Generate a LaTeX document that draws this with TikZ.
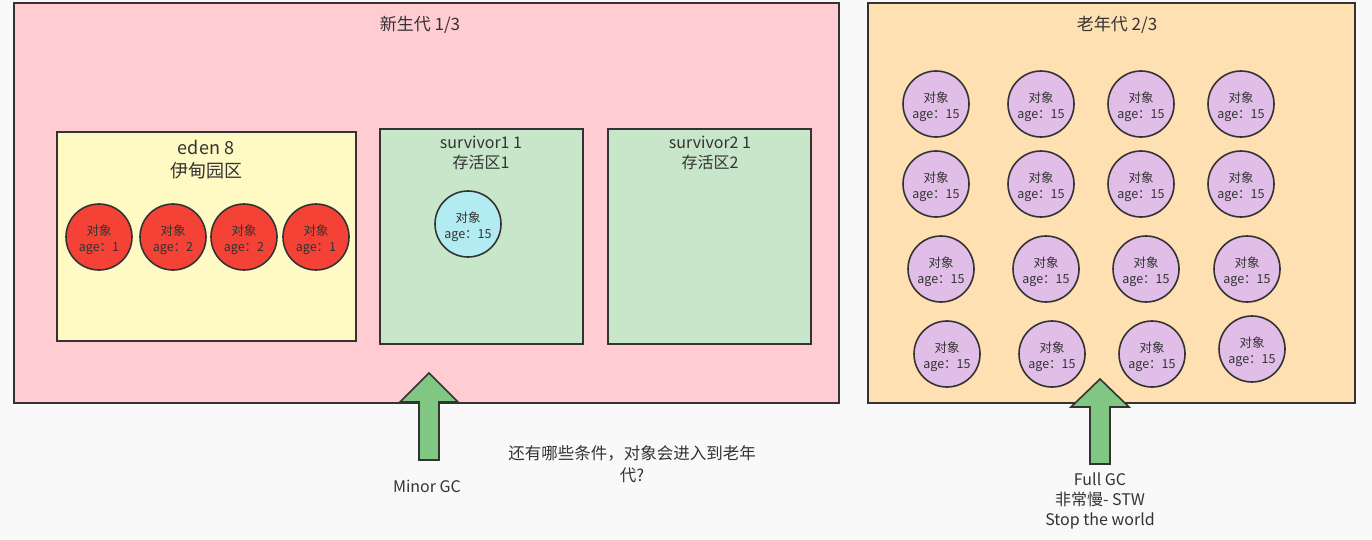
\documentclass[tikz,border=0pt]{standalone}
\usepackage{fontspec}
\setmainfont{Noto Sans CJK SC}
\definecolor{bgc}{HTML}{F9F9F9}
\definecolor{inkc}{HTML}{333333}
\definecolor{youngc}{HTML}{FFCCD1}
\definecolor{edenc}{HTML}{FFF9C4}
\definecolor{survc}{HTML}{C8E6C9}
\definecolor{oldc}{HTML}{FFE0B2}
\definecolor{redc}{HTML}{F44336}
\definecolor{cyanc}{HTML}{B2EBF2}
\definecolor{purpc}{HTML}{E1BEE7}
\definecolor{arrc}{HTML}{81C784}
\tikzset{
  area/.style={draw=inkc, line width=1.8pt},
  objtext/.style={text=inkc, align=center, inner sep=0pt, yshift=-3pt, font=\fontsize{12.5}{16}\selectfont},
  obj/.style={circle, draw=inkc, line width=1.6pt, minimum size=66pt, inner sep=0pt, label={[objtext]center:#1}},
  redobj/.style={obj={#1}, fill=redc},
  cyanobj/.style={obj={#1}, fill=cyanc},
  oldobj/.style={obj={#1}, fill=purpc},
  lbl/.style={text=inkc, align=center, inner sep=0pt},
  bigarrow/.style={draw=inkc, line width=1.6pt, fill=arrc, line join=miter}
}
\begin{document}
\begin{tikzpicture}[x=1pt,y=-1pt]
\useasboundingbox (0,0) rectangle (1372,539);
\fill[bgc] (0,0) rectangle (1372,539);
% young generation
\draw[area, fill=youngc] (14,3) rectangle (839,403);
\node[lbl, font=\fontsize{17}{20}\selectfont] (youngt) at (420,25) {新生代 1/3};
\draw[area, fill=edenc] (57,132) rectangle (356,341);
\node[lbl, font=\fontsize{18}{23}\selectfont] (edent) at (206,160) {eden 8\\伊甸园区};
\draw[area, fill=survc] (380,129) rectangle (583,344);
\node[lbl, font=\fontsize{16}{20}\selectfont] (s1t) at (481,153) {survivor1 1\\存活区1};
\draw[area, fill=survc] (608,129) rectangle (811,344);
\node[lbl, font=\fontsize{16}{20}\selectfont] (s2t) at (710,153) {survivor2 1\\存活区2};
\node[redobj={对象\\age：1}] (e1) at (99,237) {};
\node[redobj={对象\\age：2}] (e2) at (173,237) {};
\node[redobj={对象\\age：2}] (e3) at (244,237) {};
\node[redobj={对象\\age：1}] (e4) at (316,237) {};
\node[cyanobj={对象\\age：15}] (s1o) at (468,224) {};
% old generation
\draw[area, fill=oldc] (868,3) rectangle (1355,403);
\node[lbl, font=\fontsize{17}{20}\selectfont] (oldt) at (1117,25) {老年代 2/3};
\foreach \i/\x in {1/936,2/1041,3/1141,4/1241}{
  \node[oldobj={对象\\age：15}] (oa\i) at (\x,104) {};
  \node[oldobj={对象\\age：15}] (ob\i) at (\x,184) {};
}
\foreach \i/\x in {1/941,2/1046,3/1146,4/1247}{
  \node[oldobj={对象\\age：15}] (oc\i) at (\x,269) {};
}
\node[oldobj={对象\\age：15}] (od1) at (947,354) {};
\node[oldobj={对象\\age：15}] (od2) at (1052,354) {};
\node[oldobj={对象\\age：15}] (od3) at (1152,354) {};
\node[oldobj={对象\\age：15}] (od4) at (1252,349) {};
% arrows
\draw[bigarrow] (429,373) -- (458,402) -- (439,402) -- (439,460) -- (419,460) -- (419,402) -- (400,402) -- cycle;
\draw[bigarrow] (1100,379) -- (1129,407) -- (1110,407) -- (1110,464) -- (1090,464) -- (1090,407) -- (1071,407) -- cycle;
% labels
\node[lbl, font=\fontsize{16}{20}\selectfont] (minor) at (427,486) {Minor GC};
\node[lbl, font=\fontsize{16.5}{22}\selectfont] (q) at (632,464) {还有哪些条件，对象会进入到老年\\代?};
\node[lbl, font=\fontsize{16}{20}\selectfont] (full) at (1100,501) {Full GC\\非常慢- STW\\Stop the world};
\end{tikzpicture}
\end{document}
